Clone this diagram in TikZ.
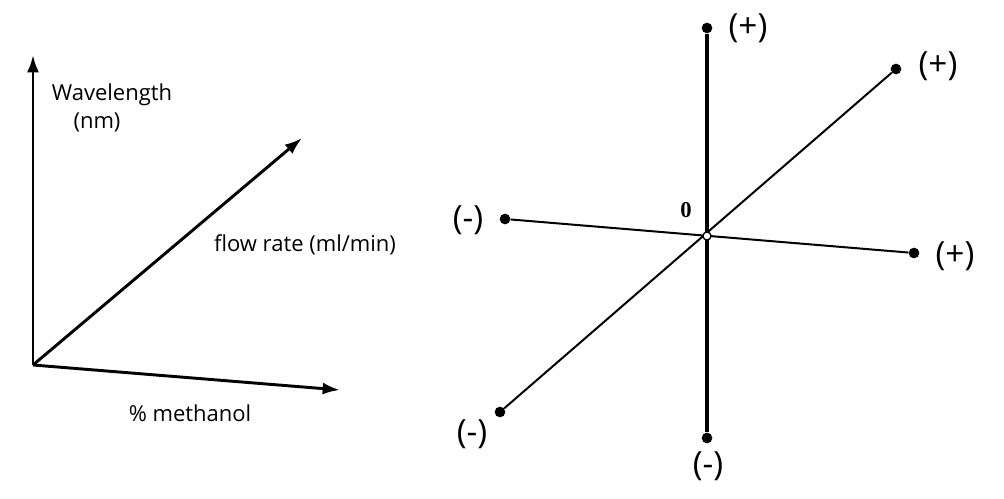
\documentclass[tikz,border=0pt]{standalone}
\usetikzlibrary{arrows.meta}
\usepackage{fontspec}
\setmainfont{Open Sans}
\newfontfamily\zerofont{Liberation Serif}
\begin{document}
\begin{tikzpicture}[x=0.75pt,y=-0.75pt,
  ax/.style={line width=2.2pt,-{Latex[length=13pt,width=9pt]}},
  lbl/.style={font=\fontsize{16.5}{19}\selectfont},
  pm/.style={font=\fontsize{25}{28}\selectfont},
  dot/.style={circle,fill=black,inner sep=0pt,minimum size=8pt},
  thin/.style={line width=1.5pt}]
\useasboundingbox (0,0) rectangle (1004,499);
\coordinate (o) at (33,365);
\coordinate (yt) at (33,55);
\coordinate (dt) at (302,138);
\coordinate (xt) at (340,390);
\draw[ax] (o) -- (yt);
\draw[ax] (o) -- (dt);
\draw[ax] (o) -- (xt);
\node[lbl] (wl) at (112,95) {Wavelength};
\node[lbl] (nm) at (97,122) {(nm)};
\node[lbl] (fr) at (305,245) {flow rate (ml/min)};
\node[lbl] (me) at (190,413) {\% methanol};
% right
\node[dot] (vt) at (707,28) {};
\node[dot] (vb) at (707,438) {};
\node[dot] (dtp) at (896,69) {};
\node[dot] (dbt) at (500,412) {};
\node[dot] (hl) at (505,219) {};
\node[dot] (hr) at (914,253) {};
\draw[line width=3pt] (vt) -- (vb);
\draw[thin] (dbt) -- (dtp);
\draw[thin] (hl) -- (hr);
\node[circle,draw,fill=white,line width=1pt,inner sep=0pt,minimum size=6pt] (c) at (707,236) {};
\node[font=\fontsize{17}{20}\selectfont\bfseries\zerofont] (z) at (686,210) {0};
\node[pm] (p1) at (748,28) {(+)};
\node[pm] (m1) at (708,466) {(-)};
\node[pm] (p2) at (938,66) {(+)};
\node[pm] (m2) at (472,434) {(-)};
\node[pm] (m3) at (468,220) {(-)};
\node[pm] (p3) at (955,256) {(+)};
\end{tikzpicture}
\end{document}
